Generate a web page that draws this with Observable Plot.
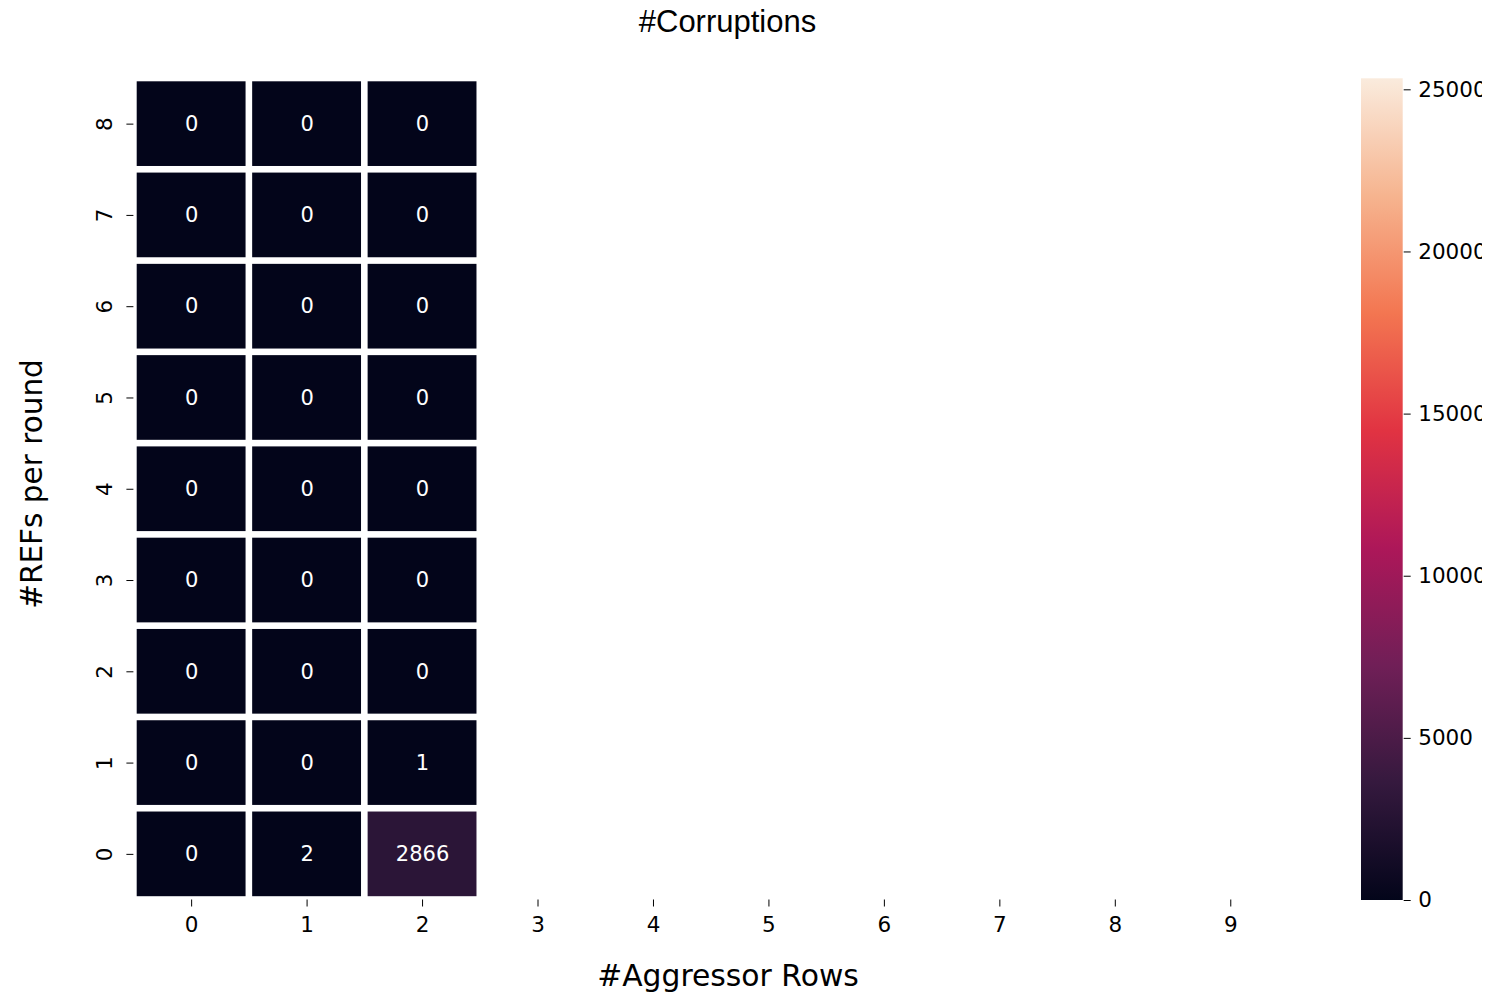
<!DOCTYPE html>
<html>
<head>
<meta charset="utf-8">
<script src="https://cdn.jsdelivr.net/npm/d3@7"></script>
<script src="https://cdn.jsdelivr.net/npm/@observablehq/plot@0.6"></script>
<style>
  body { margin: 0; background: #fff; }
  #fig { position: relative; width: 1494px; height: 993px; overflow: hidden; background: #fff; }
  #title { height: 50px; width: 1455px; text-align: center; font: 31px "Liberation Sans", Arial, sans-serif; line-height: 44px; color: #000; }
  #bar { position: absolute; left: 1340px; top: 50px; }
  #bar svg { overflow: hidden; }
</style>
</head>
<body>
<div id="fig">
  <div id="title">#Corruptions</div>
  <div id="main"></div>
  <div id="bar"></div>
</div>
<script>
// Axis categories
const aggressorRows = [0, 1, 2, 3, 4, 5, 6, 7, 8, 9];
const refsPerRound = [0, 1, 2, 3, 4, 5, 6, 7, 8];

// Corruption counts, indexed by #REFs per round (0..8), one array per #aggressor rows
const corruptionsAgg0 = [0, 0, 0, 0, 0, 0, 0, 0, 0];
const corruptionsAgg1 = [2, 0, 0, 0, 0, 0, 0, 0, 0];
const corruptionsAgg2 = [2866, 1, 0, 0, 0, 0, 0, 0, 0];

// Colour bar extent and ticks
const colorMax = 25340;
const colorTicks = [0, 5000, 10000, 15000, 20000, 25000];

// "rocket" colour map key colours (evenly spaced from 0 to colorMax)
const rocketStops = ["#03051a", "#35193e", "#701f57", "#ad1759", "#e13342", "#f37651", "#f6b48f", "#faebdd"];

const cells = [corruptionsAgg0, corruptionsAgg1, corruptionsAgg2].flatMap((col, xi) =>
  col.map((value, yi) => ({ agg: aggressorRows[xi], refs: refsPerRound[yi], value }))
);

const colorScale = {
  type: "linear",
  domain: rocketStops.map((_, i) => (i / (rocketStops.length - 1)) * colorMax),
  range: rocketStops,
  interpolate: "rgb"
};

const baseStyle = { fontFamily: "'DejaVu Sans', sans-serif", fontSize: "21.5px", color: "#000", background: "white" };

const frameL = 133.4, frameR = 1288, frameT = 28, frameB = 849.5, W = 1494, H = 943;

const main = Plot.plot({
  width: W,
  height: H,
  marginTop: frameT,
  marginBottom: H - frameB,
  marginLeft: frameL,
  marginRight: W - frameR,
  style: baseStyle,
  x: { type: "band", domain: aggressorRows, padding: 0, round: false, axis: null },
  y: { type: "band", domain: refsPerRound.slice().reverse(), padding: 0, round: false, axis: null },
  color: colorScale,
  marks: [
    Plot.cell(cells, { x: "agg", y: "refs", fill: "value", inset: 3.3 }),
    Plot.text(cells, { x: "agg", y: "refs", text: (d) => String(d.value), fill: "white", fontSize: 21 }),
    Plot.axisX({ anchor: "bottom", tickSize: 7, tickPadding: 10, fontSize: 21.5, label: null }),
    Plot.axisY({ anchor: "left", tickSize: 7, tickFormat: () => "", label: null }),
    // rotated y tick labels
    Plot.text(refsPerRound, {
      y: (d) => d, text: (d) => String(d), frameAnchor: "left", dx: -28.4,
      rotate: -90, fontSize: 21.5, lineAnchor: "middle", textAnchor: "middle"
    }),
    Plot.text(["#Aggressor Rows"], {
      frameAnchor: "bottom", dx: 727.5 - (frameL + frameR) / 2, dy: 76,
      fontSize: 29.8, lineAnchor: "middle", textAnchor: "middle"
    }),
    Plot.text(["#REFs per round"], {
      frameAnchor: "left", dx: 32 - frameL, dy: 433.5 - (frameT + frameB) / 2,
      rotate: -90, fontSize: 29.5, lineAnchor: "middle", textAnchor: "middle"
    })
  ]
});
document.getElementById("main").appendChild(main);

// Gradient strip for the colour bar, positioned with the bar's y scale
function colorRamp(index, scales, values, dims) {
  const g = d3.create("svg:g");
  const grad = g.append("defs").append("linearGradient")
    .attr("id", "cbar-grad").attr("x1", 0).attr("x2", 0).attr("y1", 1).attr("y2", 0);
  rocketStops.forEach((c, i) =>
    grad.append("stop").attr("offset", i / (rocketStops.length - 1)).attr("stop-color", c)
  );
  const y0 = scales.y(0), y1 = scales.y(colorMax);
  g.append("rect")
    .attr("x", dims.marginLeft)
    .attr("width", 41.7)
    .attr("y", y1)
    .attr("height", y0 - y1)
    .attr("fill", "url(#cbar-grad)");
  return g.node();
}

// The colour bar's tick labels are clipped at the right edge of this panel
const barW = 142;
const bar = Plot.plot({
  width: barW,
  height: H,
  marginTop: 28.3,
  marginBottom: H - 850,
  marginLeft: 21,
  marginRight: barW - 21 - 41.7,
  style: baseStyle,
  x: { domain: [0, 1], axis: null },
  y: { domain: [0, colorMax], axis: null },
  marks: [
    colorRamp,
    Plot.axisY({ ticks: colorTicks, anchor: "right", tickSize: 7, tickPadding: 8, tickFormat: (d) => String(d), fontSize: 21.5, label: null })
  ]
});
document.getElementById("bar").appendChild(bar);
</script>
</body>
</html>
